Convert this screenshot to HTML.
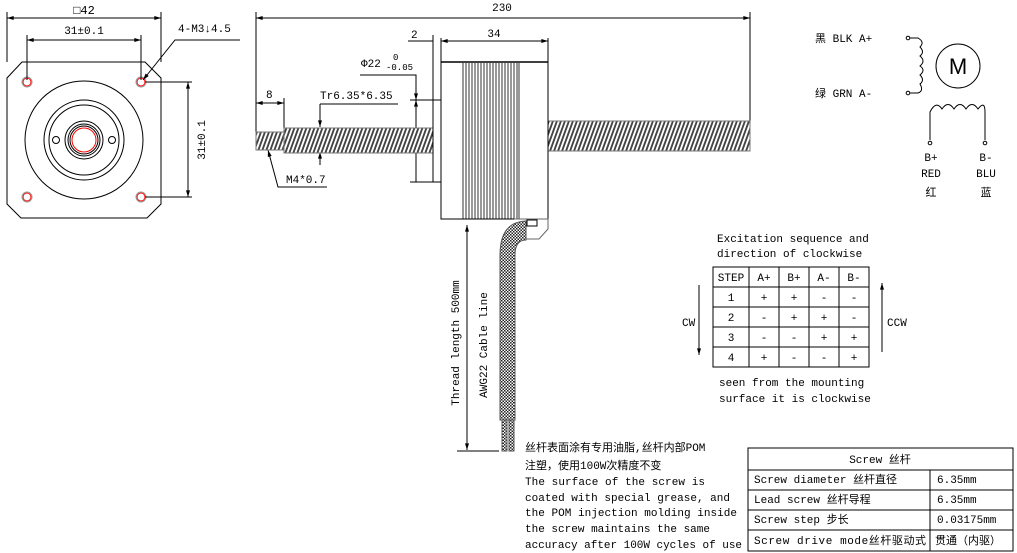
<!DOCTYPE html>
<html><head><meta charset="utf-8"><style>
html,body{margin:0;padding:0;background:#fff}
svg{display:block}
text{font-family:"Liberation Mono","Noto Sans CJK SC",monospace;font-size:11px;fill:#000}
</style></head><body>
<svg width="1017" height="553" viewBox="0 0 1017 553" xmlns="http://www.w3.org/2000/svg">
<defs>
<pattern id="thr" width="4" height="30" patternUnits="userSpaceOnUse" patternTransform="skewX(-20)">
<rect width="4" height="30" fill="#fff"/><rect x="0" width="2" height="30" fill="#444"/></pattern>
<pattern id="hatch" width="3" height="3" patternUnits="userSpaceOnUse">
<rect width="3" height="3" fill="#fff"/><rect width="1.5" height="1.5" fill="#222"/><rect x="1.5" y="1.5" width="1.5" height="1.5" fill="#222"/></pattern>
<marker id="a" viewBox="0 0 10 6" refX="10" refY="3" markerWidth="8" markerHeight="4" orient="auto-start-reverse"><path d="M0,0L10,3L0,6z" fill="#000"/></marker>
</defs>
<g stroke="#000" stroke-width="1" fill="none">
<path d="M22,62H145L161,78V204L147,218H21L7,204V78Z"/>
<circle cx="84" cy="140" r="59"/>
<circle cx="84" cy="140" r="40"/>
<circle cx="84" cy="140" r="35"/>
<circle cx="84" cy="140" r="19"/>
<circle cx="84" cy="140" r="16"/>
<circle cx="84" cy="140" r="14"/>
<circle cx="84" cy="140" r="12" stroke="red"/>
<circle cx="56" cy="140" r="3.5"/><circle cx="112" cy="140" r="3.5"/>
<g stroke="red"><circle cx="27" cy="82" r="4"/><circle cx="141" cy="82" r="4"/><circle cx="27" cy="197" r="4"/><circle cx="141" cy="197" r="4"/></g>
<circle cx="27" cy="82" r="5" stroke="#999"/><circle cx="141" cy="82" r="5" stroke="#999"/><circle cx="27" cy="197" r="5" stroke="#999"/><circle cx="141" cy="197" r="5" stroke="#999"/>
<path d="M7,12V62M161,12V62"/>
<path d="M7,18H161" marker-start="url(#a)" marker-end="url(#a)"/>
<path d="M27,35V80M141,35V80"/>
<path d="M27,40H141" marker-start="url(#a)" marker-end="url(#a)"/>
<path d="M145,82H192M145,197H192"/>
<path d="M188,82V197" marker-start="url(#a)" marker-end="url(#a)"/>
<path d="M240,40H175L143,80" marker-end="url(#a)"/>
<path d="M256,12V145M750,12V130"/>
<path d="M256,18H750" marker-start="url(#a)" marker-end="url(#a)"/>
<path d="M441,38V62M548,38V62"/>
<path d="M441,41H548" marker-start="url(#a)" marker-end="url(#a)"/>
<path d="M408,41H433M441,41H452"/>
<path d="M433,35V100" />
<path d="M410,100H433M410,182H433"/>
<path d="M360,75H416V100" marker-end="url(#a)"/>
<path d="M416,182V100" marker-end="url(#a)"/>
<path d="M256,103H284" marker-start="url(#a)" marker-end="url(#a)"/>
<path d="M284,98V128"/>
<path d="M320,104H398"/>
<path d="M320,104V127" marker-end="url(#a)"/>
<path d="M320,165V152" marker-end="url(#a)"/>
<path d="M327,187H278L268,150" marker-end="url(#a)"/>
<rect x="256" y="132" width="28" height="18" fill="url(#thr)" stroke="#777"/>
<rect x="284" y="128" width="149" height="25" fill="url(#thr)" stroke="#777"/>
<rect x="548" y="121" width="202" height="30" fill="url(#thr)" stroke="#777"/>
<rect x="433" y="100" width="8" height="82" fill="#fff"/>
<rect x="441" y="62" width="107" height="157" fill="#fff"/>
<path d="M463,63V219M466,63V219M469,63V219M472,63V219M475,63V219M478,63V219M481,63V219M484,63V219M487,63V219M490,63V219M493,63V219M496,63V219M499,63V219M502,63V219M505,63V219M508,63V219M511,63V219M514,63V219M517,63V219M519,63V219" stroke-width="0.8"/>
<path d="M441,62H548" stroke-width="1.5"/>
<path d="M514,219H548V229L539,239H514" stroke="#666"/>
<rect x="527" y="220" width="10" height="6"/>
<path d="M500,420V255Q500,222 526,221V240Q515,240 515,255V420Z" fill="url(#hatch)" stroke="#555"/>
<rect x="502" y="420" width="5" height="31" fill="url(#hatch)" stroke="#555"/>
<rect x="509" y="420" width="5" height="31" fill="url(#hatch)" stroke="#555"/>
<path d="M467,450V225" marker-end="url(#a)"/>
<path d="M467,225V450" marker-end="url(#a)"/>
<path d="M457,451H499"/>
<circle cx="908" cy="38" r="1.8"/><circle cx="908" cy="93" r="1.8"/>
<path d="M910,38H918Q925,42 920,47Q925,52 920,56Q926,61 920,66Q926,70 920,75Q925,80 920,84Q924,91 918,93H910"/>
<circle cx="958" cy="66" r="22"/>
<path d="M930,140V112Q936,100 942,109Q948,100 954,109Q960,100 966,109Q972,100 978,109Q985,100 985,112V140"/>
<circle cx="930" cy="143" r="1.8"/><circle cx="985" cy="143" r="1.8"/>
<rect x="713" y="267" width="156" height="100"/>
<path d="M713,287H869M713,307H869M713,327H869M713,347H869M749,267V367M779,267V367M809,267V367M839,267V367"/>
<path d="M699,285V355" marker-end="url(#a)"/>
<path d="M882,352V283" marker-end="url(#a)"/>
<rect x="748" y="448" width="265" height="103"/>
<path d="M748,470H1013M748,490H1013M748,510H1013M748,530H1013M930,470V551"/>
</g>
<text x="84" y="14" text-anchor="middle" style="font-size:12px">□42</text>
<text x="84" y="34" text-anchor="middle">31±0.1</text>
<text x="178" y="32">4-M3↓4.5</text>
<text transform="translate(205,140) rotate(-90)" text-anchor="middle">31±0.1</text>
<text x="502" y="11" text-anchor="middle">230</text>
<text x="494" y="37" text-anchor="middle">34</text>
<text x="411" y="38">2</text>
<text x="361" y="67">Φ22</text><text x="393" y="60" style="font-size:9px">0</text><text x="386" y="70" style="font-size:9px">-0.05</text>
<text x="266" y="98">8</text>
<text x="320" y="99">Tr6.35*6.35</text>
<text x="286" y="183">M4*0.7</text>
<text transform="translate(459,343) rotate(-90)" text-anchor="middle">Thread length 500mm</text>
<text transform="translate(487,345) rotate(-90)" text-anchor="middle">AWG22 Cable line</text>
<text x="815" y="42">黑 BLK A+</text>
<text x="815" y="97">绿 GRN A-</text>
<text x="958" y="74" text-anchor="middle" style="font-size:22px;font-family:'Liberation Sans',sans-serif;font-weight:300">M</text>
<text x="931" y="161" text-anchor="middle">B+</text><text x="931" y="177" text-anchor="middle">RED</text><text x="931" y="196" text-anchor="middle">红</text>
<text x="986" y="161" text-anchor="middle">B-</text><text x="986" y="177" text-anchor="middle">BLU</text><text x="986" y="196" text-anchor="middle">蓝</text>
<text x="717" y="242">Excitation sequence and</text>
<text x="717" y="257">direction of clockwise</text>
<g text-anchor="middle">
<text x="731" y="281">STEP</text><text x="764" y="281">A+</text><text x="794" y="281">B+</text><text x="824" y="281">A-</text><text x="854" y="281">B-</text>
<text x="731" y="301">1</text><text x="764" y="301">+</text><text x="794" y="301">+</text><text x="824" y="301">-</text><text x="854" y="301">-</text>
<text x="731" y="321">2</text><text x="764" y="321">-</text><text x="794" y="321">+</text><text x="824" y="321">+</text><text x="854" y="321">-</text>
<text x="731" y="341">3</text><text x="764" y="341">-</text><text x="794" y="341">-</text><text x="824" y="341">+</text><text x="854" y="341">+</text>
<text x="731" y="361">4</text><text x="764" y="361">+</text><text x="794" y="361">-</text><text x="824" y="361">-</text><text x="854" y="361">+</text>
</g>
<text x="682" y="326">CW</text>
<text x="887" y="326">CCW</text>
<text x="719" y="386">seen from the mounting</text>
<text x="719" y="402">surface it is clockwise</text>
<text x="525" y="451">丝杆表面涂有专用油脂,丝杆内部POM</text>
<text x="525" y="469">注塑，使用100W次精度不变</text>
<text x="525" y="485" textLength="180">The surface of the screw is</text>
<text x="525" y="501" textLength="205">coated with special grease, and</text>
<text x="525" y="516" textLength="212">the POM injection molding inside</text>
<text x="525" y="532" textLength="185">the screw maintains the same</text>
<text x="525" y="548" textLength="217">accuracy after 100W cycles of use</text>
<text x="880" y="463" text-anchor="middle">Screw  丝杆</text>
<text x="754" y="483">Screw diameter 丝杆直径</text>
<text x="754" y="503">Lead screw 丝杆导程</text>
<text x="754" y="523">Screw step 步长</text>
<text x="754" y="544" textLength="172">Screw drive mode丝杆驱动式</text>
<text x="937" y="483">6.35mm</text>
<text x="937" y="503">6.35mm</text>
<text x="937" y="523">0.03175mm</text>
<text x="935" y="544">贯通（内驱）</text>
</svg>
</body></html>
